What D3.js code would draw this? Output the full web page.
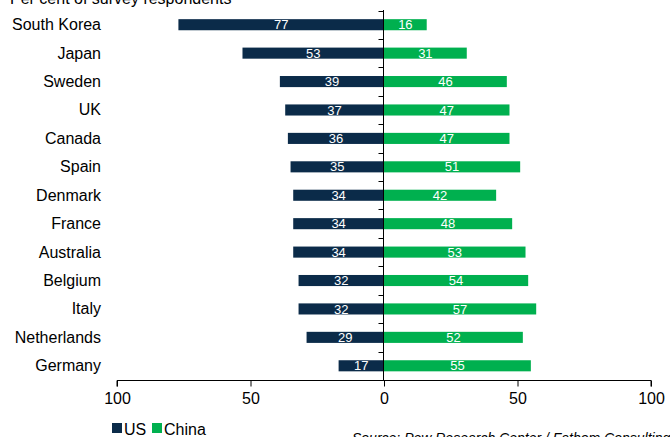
<!DOCTYPE html>
<html>
<head>
<meta charset="utf-8">
<script src="https://cdn.jsdelivr.net/npm/d3@7/dist/d3.min.js"></script>
<style>
  html, body { margin: 0; padding: 0; background: #fff; }
  svg { display: block; font-family: "Liberation Sans", Arial, sans-serif; }
</style>
</head>
<body>
<div id="chart"></div>
<script>
// Survey results: share of respondents with a favourable view, by country
const countries = ["South Korea", "Japan", "Sweden", "UK", "Canada", "Spain", "Denmark",
                   "France", "Australia", "Belgium", "Italy", "Netherlands", "Germany"];
const usValues    = [77, 53, 39, 37, 36, 35, 34, 34, 34, 32, 32, 29, 17];
const chinaValues = [16, 31, 46, 47, 47, 51, 42, 48, 53, 54, 57, 52, 55];
const xTickValues = [-100, -50, 0, 50, 100];
const seriesNames = ["US", "China"];
const seriesColors = ["#0b2b49", "#00b04f"];

const W = 670, H = 437;
const svg = d3.select("#chart").append("svg").attr("width", W).attr("height", H);

const x = d3.scaleLinear().domain([-100, 100]).range([117, 651]);
const y = d3.scaleBand().domain(countries).range([10.5, 380]).paddingInner(0.61).paddingOuter(0.305);

// Title (partly above the visible area)
svg.append("text").attr("x", 10).attr("y", 4).attr("font-size", 16).attr("fill", "#000")
  .text("Per cent of survey respondents");

const rows = countries.map((c, i) => ({ c, us: usValues[i], cn: chinaValues[i] }));

// US bars extend left of zero, China bars to the right
svg.append("g").selectAll("rect").data(rows).join("rect")
  .attr("x", d => x(-d.us)).attr("width", d => x(0) - x(-d.us))
  .attr("y", d => y(d.c)).attr("height", y.bandwidth())
  .attr("fill", seriesColors[0]);
svg.append("g").selectAll("rect").data(rows).join("rect")
  .attr("x", x(0)).attr("width", d => x(d.cn) - x(0))
  .attr("y", d => y(d.c)).attr("height", y.bandwidth())
  .attr("fill", seriesColors[1]);

// Value labels centred in each bar
const lbl = svg.append("g").attr("font-size", 13).attr("fill", "#fff").attr("text-anchor", "middle");
lbl.selectAll("text.us").data(rows).join("text").attr("class", "us")
  .attr("x", d => (x(-d.us) + x(0)) / 2).attr("y", d => y(d.c) + y.bandwidth() / 2 + 4.6)
  .text(d => d.us);
lbl.selectAll("text.cn").data(rows).join("text").attr("class", "cn")
  .attr("x", d => (x(d.cn) + x(0)) / 2).attr("y", d => y(d.c) + y.bandwidth() / 2 + 4.6)
  .text(d => d.cn);

// Category labels
svg.append("g").attr("font-size", 16).attr("text-anchor", "end").selectAll("text")
  .data(countries).join("text")
  .attr("x", 101).attr("y", d => y(d) + y.bandwidth() / 2 + 5.5)
  .attr("fill", "#000").text(d => d);

// Vertical zero axis with ticks between categories
const yAxisG = svg.append("g").attr("stroke", "#000").attr("stroke-width", 1);
const bounds = d3.range(countries.length).map(i => y.range()[0] + i * y.step());
yAxisG.append("line").attr("x1", x(0) - 0.5).attr("x2", x(0) - 0.5)
  .attr("y1", 10).attr("y2", 380.5);
yAxisG.selectAll("line.t").data(bounds).join("line").attr("class", "t")
  .attr("x1", x(0) - 5.5).attr("x2", x(0) - 0.5)
  .attr("y1", d => Math.round(d) + 0.5).attr("y2", d => Math.round(d) + 0.5);

// Horizontal value axis
const xAxis = d3.axisBottom(x).tickValues(xTickValues).tickSize(6).tickPadding(6)
  .tickFormat(d => Math.abs(d));
const xg = svg.append("g").attr("transform", "translate(0,380.5)").call(xAxis);
xg.select(".domain").attr("stroke", "#000").attr("d", `M${x(-100)},6V0H${x(100)}V6`);
xg.selectAll(".tick line").attr("stroke", "#000");
xg.selectAll(".tick text").attr("font-size", 16).attr("fill", "#000")
  .attr("font-family", "Liberation Sans, Arial, sans-serif");

// Legend
const leg = svg.append("g").attr("font-size", 16);
const legX = [112, 152];
seriesNames.forEach((n, i) => {
  leg.append("rect").attr("x", legX[i]).attr("y", 423).attr("width", 10).attr("height", 10)
    .attr("fill", seriesColors[i]);
  leg.append("text").attr("x", legX[i] + 12).attr("y", 435).attr("fill", "#000").text(n);
});

// Source note
svg.append("text").attr("x", 352).attr("y", 443).attr("font-size", 14)
  .attr("font-style", "italic").attr("fill", "#000")
  .text("Source: Pew Research Center / Fathom Consulting");
</script>
</body>
</html>
